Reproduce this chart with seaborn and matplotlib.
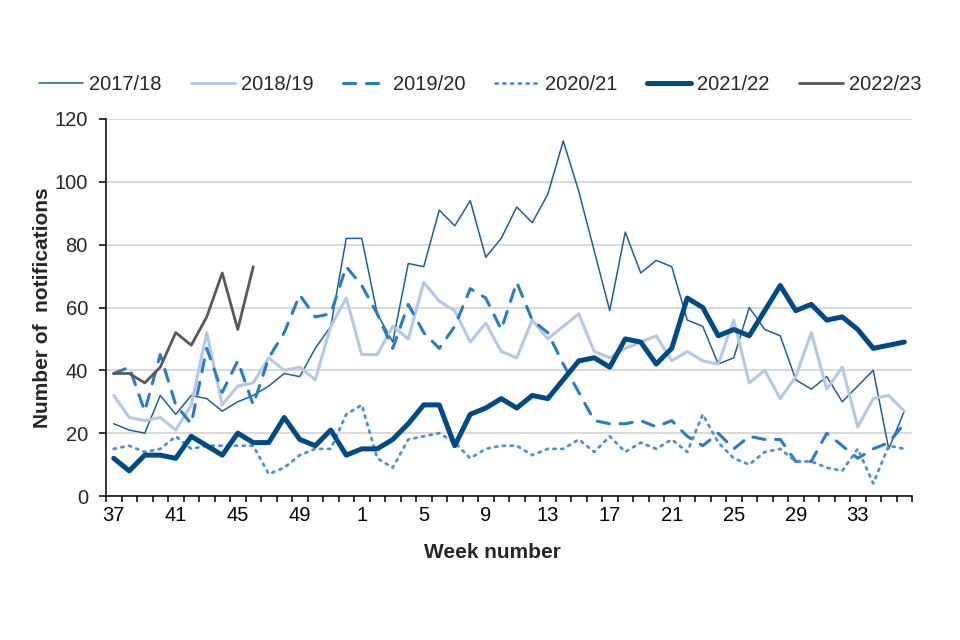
import numpy as np
import pandas as pd
import matplotlib
matplotlib.use("Agg")
import matplotlib.pyplot as plt
import seaborn as sns

# ---- data (week 37 of one year to week 36 of the next) ----
weeks = list(range(37, 53)) + list(range(1, 37))

s2017_18 = [23, 21, 20, 32, 26, 32, 31, 27, 30, 32, 35, 39, 38, 47, 54, 82, 82, 58, 49, 74,
            73, 91, 86, 94, 76, 82, 92, 87, 96, 113, 97, 78, 59, 84, 71, 75, 73, 56, 54, 42,
            44, 60, 53, 51, 37, 34, 38, 30, 35, 40, 15, 27]
s2018_19 = [32, 25, 24, 25, 21, 29, 52, 29, 35, 36, 44, 40, 41, 37, 54, 63, 45, 45, 54, 50,
            68, 62, 59, 49, 55, 46, 44, 56, 50, 54, 58, 46, 44, 47, 49, 51, 43, 46, 43, 42,
            56, 36, 40, 31, 38, 52, 34, 41, 22, 31, 32, 27]
s2019_20 = [39, 41, 27, 45, 29, 23, 47, 33, 43, 29, 44, 52, 64, 57, 58, 73, 67, 58, 47, 61,
            52, 47, 54, 66, 63, 53, 68, 56, 52, 42, 33, 24, 23, 23, 24, 22, 24, 19, 16, 20,
            15, 19, 18, 18, 11, 11, 20, 16, 12, 15, 17, 23]
s2020_21 = [15, 16, 14, 15, 19, 15, 16, 16, 16, 16, 7, 9, 13, 15, 15, 26, 29, 12, 9, 18,
            19, 20, 17, 12, 15, 16, 16, 13, 15, 15, 18, 14, 19, 14, 17, 15, 18, 14, 26, 17,
            12, 10, 14, 15, 11, 11, 9, 8, 15, 4, 16, 15]
s2021_22 = [12, 8, 13, 13, 12, 19, 16, 13, 20, 17, 17, 25, 18, 16, 21, 13, 15, 15, 18, 23,
            29, 29, 16, 26, 28, 31, 28, 32, 31, 37, 43, 44, 41, 50, 49, 42, 47, 63, 60, 51,
            53, 51, 59, 67, 59, 61, 56, 57, 53, 47, 48, 49]
s2022_23 = [39, 39, 36, 41, 52, 48, 57, 71, 53, 73]

series_names = ["2017/18", "2018/19", "2019/20", "2020/21", "2021/22", "2022/23"]
series_values = [s2017_18, s2018_19, s2019_20, s2020_21, s2021_22, s2022_23]

styles = {
    "2017/18": dict(color="#1F5F99", linewidth=1.1, linestyle="-"),
    "2018/19": dict(color="#B4C7E7", linewidth=2.2, linestyle="-"),
    "2019/20": dict(color="#2A7BC2", linewidth=2.2, linestyle=(0, (4, 3.5))),
    "2020/21": dict(color="#4F90D0", linewidth=2.0, linestyle=(0, (0.8, 2.0))),
    "2021/22": dict(color="#004A86", linewidth=3.6, linestyle="-"),
    "2022/23": dict(color="#595959", linewidth=2.0, linestyle="-"),
}

rows = []
for name, vals in zip(series_names, series_values):
    for i, v in enumerate(vals):
        rows.append({"pos": i, "week": weeks[i], "season": name, "value": v})
df = pd.DataFrame(rows)

sns.set_style("white")
plt.rcParams["font.family"] = ["Liberation Sans", "DejaVu Sans"]

FS = 14.5
fig = plt.figure(figsize=(9.6, 6.4), dpi=100)
ax = fig.add_axes([106 / 960, 1 - 496 / 640, 806 / 960, 377 / 640])

ax.set_axisbelow(True)
ax.yaxis.grid(True, color="#D0D0D0", linewidth=1.1)
ax.xaxis.grid(False)

for name in series_names:
    sub = df[df["season"] == name]
    sns.lineplot(data=sub, x="pos", y="value", ax=ax, label=name,
                 errorbar=None, sort=False, dash_capstyle="round",
                 **styles[name])

ax.set_xlim(-0.5, len(weeks) - 0.5)
ax.set_ylim(0, 120)
ax.set_yticks(range(0, 121, 20))

major_pos = list(range(0, len(weeks), 4))
ax.set_xticks(major_pos)
ax.set_xticklabels([str(weeks[i]) for i in major_pos])
ax.set_xticks(np.arange(-0.5, len(weeks), 1), minor=True)

ax.tick_params(axis="x", which="major", length=0, pad=7, labelsize=FS, colors="#000000")
ax.tick_params(axis="x", which="minor", length=4, width=1.1, direction="out",
               color="#000000", bottom=True)
ax.tick_params(axis="y", which="major", length=5, width=1.1, direction="out",
               pad=8, labelsize=FS, color="#000000", left=True)

for side in ["top", "right"]:
    ax.spines[side].set_visible(False)
for side in ["left", "bottom"]:
    ax.spines[side].set_color("#000000")
    ax.spines[side].set_linewidth(1.1)

ax.set_xlabel("Week number", fontsize=15, fontweight="bold")
ax.set_ylabel("Number of  notifications", fontsize=15, fontweight="bold")
ax.xaxis.set_label_coords((492 - 106) / 806, (496 - 543) / 377)
ax.yaxis.set_label_coords((52 - 106) / 806, 0.5)

ax.legend(loc="center", bbox_to_anchor=(0.5, 1 - 85 / 640), bbox_transform=fig.transFigure,
          ncol=6, frameon=False, fontsize=FS, handlelength=2.2, handletextpad=0.3,
          columnspacing=1.45)

fig.savefig("out.png", dpi=100)
